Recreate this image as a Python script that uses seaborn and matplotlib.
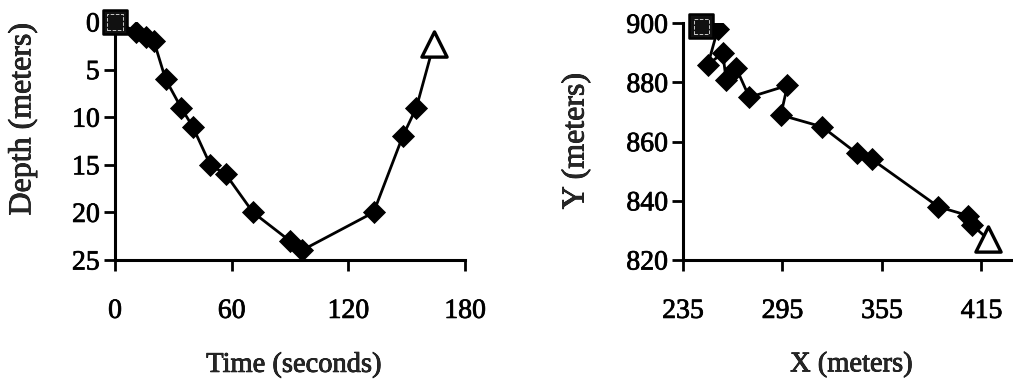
import matplotlib
matplotlib.use("Agg")
import matplotlib.pyplot as plt
import matplotlib.patheffects as pe
import seaborn as sns
import pandas as pd

# Dive profile: time vs depth
time_s = [0, 11, 16, 20, 26, 34, 40, 49, 57, 71, 90, 96, 133, 148, 155, 164]
depth_m = [0, 1, 1.6, 2, 6, 9, 11, 15, 16, 20, 23, 24, 20, 12, 9, 2.3]

# Horizontal track: X vs Y position
track_x = [246, 256, 250, 259, 261, 267, 275, 298, 294, 319, 340, 349, 389, 407, 409, 419]
track_y = [899, 898, 886, 890, 881, 885, 875, 879, 869, 865, 856, 854, 838, 835, 832, 827]

depth_ticks = [0, 5, 10, 15, 20, 25]
time_ticks = [0, 60, 120, 180]
x_ticks = [235, 295, 355, 415]
y_ticks = [820, 840, 860, 880, 900]

sns.set_theme(style="white")
plt.rcParams["font.family"] = ["Liberation Serif", "DejaVu Serif"]

fig = plt.figure(figsize=(10.13, 3.86), dpi=100)
ax1 = fig.add_axes([0.1135, 0.3264, 0.3455, 0.6166])
ax2 = fig.add_axes([0.6742, 0.3264, 0.3258, 0.6132])

tick_fs = 20
xlabel_fs = 20.5
ylabel_fs = 23
thick = [pe.withStroke(linewidth=0.55, foreground="black")]

dive = pd.DataFrame({"t": time_s, "d": depth_m})
track = pd.DataFrame({"x": track_x, "y": track_y})


def draw_track(ax, df, xc, yc):
    mid = df.iloc[1:-1]
    sns.lineplot(data=df, x=xc, y=yc, sort=False, ax=ax, color="black",
                 linewidth=2.0, estimator=None, zorder=3)
    sns.scatterplot(data=mid, x=xc, y=yc, ax=ax, marker="D", s=125,
                    color="black", edgecolor="black", linewidth=0.6, zorder=4)
    start = df.iloc[[0]]
    end = df.iloc[[-1]]
    sns.scatterplot(data=start, x=xc, y=yc, ax=ax, marker="s", s=280,
                    color="#111111", edgecolor="black", linewidth=1.8, zorder=5,
                    clip_on=False)
    sns.scatterplot(data=start, x=xc, y=yc, ax=ax, marker="s", s=120,
                    facecolor="none", edgecolor="#c8c8c8", linewidth=0.7,
                    linestyle="--", zorder=6, clip_on=False)
    sns.scatterplot(data=end, x=xc, y=yc, ax=ax, marker="^", s=330,
                    color="white", edgecolor="black", linewidth=2.4, zorder=5,
                    clip_on=False)


draw_track(ax1, dive, "t", "d")
ax1.set_xlim(0, 180)
ax1.set_ylim(25, 0)
ax1.set_xticks(time_ticks)
ax1.set_yticks(depth_ticks)
ax1.set_xlabel("Time (seconds)", fontsize=xlabel_fs, path_effects=thick)
ax1.set_ylabel("Depth (meters)", fontsize=ylabel_fs, path_effects=thick)
ax1.xaxis.set_label_coords(0.511, -0.39)
ax1.yaxis.set_label_coords(-0.222, 0.592)

draw_track(ax2, track, "x", "y")
ax2.set_xlim(235, 434)
ax2.set_ylim(820, 900)
ax2.set_xticks(x_ticks)
ax2.set_yticks(y_ticks)
ax2.set_xlabel("X (meters)", fontsize=xlabel_fs, path_effects=thick)
ax2.set_ylabel("Y (meters)", fontsize=ylabel_fs, path_effects=thick)
ax2.xaxis.set_label_coords(0.51, -0.39)
ax2.yaxis.set_label_coords(-0.28, 0.503)

for ax in (ax1, ax2):
    for side in ("top", "right"):
        ax.spines[side].set_visible(False)
    for side in ("left", "bottom"):
        ax.spines[side].set_color("black")
        ax.spines[side].set_linewidth(2.2)
    ax.tick_params(axis="both", which="major", direction="out", length=8,
                   width=2, color="black", labelsize=tick_fs,
                   bottom=True, left=True, labelcolor="black")
    ax.tick_params(axis="x", pad=20)
    ax.tick_params(axis="y", pad=3)
    for lab in ax.get_xticklabels() + ax.get_yticklabels():
        lab.set_path_effects(thick)
    ax.grid(False)
    ax.set_facecolor("white")

fig.savefig("out.png", dpi=100, facecolor="white")
